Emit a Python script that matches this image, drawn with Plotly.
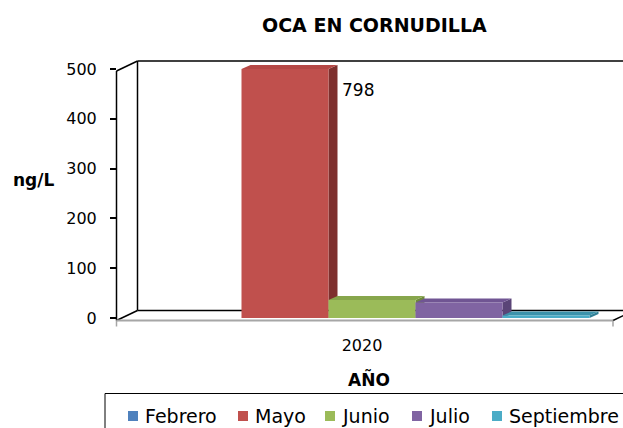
import plotly.graph_objects as go

# ---------------- data ----------------
chart_title = "OCA EN CORNUDILLA"
years = ["2020"]
months = ["Febrero", "Mayo", "Junio", "Julio", "Septiembre"]
values = [None, 798, 36, 31, 5]
y_ticks = [0, 100, 200, 300, 400, 500]
y_max = 500
y_title = "ng/L"
x_title = "AÑO"

# ---------------- styles ----------------
front_colors = ["#4F81BD", "#C0504D", "#9BBB59", "#8064A2", "#4BACC6"]
side_colors = ["#3A5F8C", "#7E302E", "#6E8A3C", "#5A4577", "#2F7F95"]
top_colors = ["#4674AA", "#B54845", "#87A64C", "#705593", "#3C93AB"]
FONT = "DejaVu Sans"

W, H = 623, 428
L, R = 117, 613          # plot area in pixels (front plane)
T, B = 69, 318
PW, PH = R - L, B - T
center_px = 372
gap = 0.123
group_w = 1 - gap
bar_w = group_w / len(months)
x0 = -(center_px - L) / PW
x_range = [x0, x0 + 1]

WALL_DX, WALL_DY = 21, 10  # depth of walls (px)
BAR_DX, BAR_DY = 9, 4      # depth of bars (px)


def fx(px):
    return (px - L) / PW


def fy(py):
    return (B - py) / PH


def x_to_px(xv):
    return L + (xv - x_range[0]) / (x_range[1] - x_range[0]) * PW


def y_to_px(yv):
    return B - yv / y_max * PH


fig = go.Figure()

shapes = []


def line(px0, py0, px1, py1, color="black", width=1.5):
    shapes.append(dict(type="line", xref="paper", yref="paper",
                       x0=fx(px0), y0=fy(py0), x1=fx(px1), y1=fy(py1),
                       line=dict(color=color, width=width), layer="below"))


def poly(pts, color):
    path = "M " + " L ".join(f"{fx(a):.5f},{fy(b):.5f}" for a, b in pts) + " Z"
    shapes.append(dict(type="path", xref="paper", yref="paper", path=path,
                       fillcolor=color, line=dict(width=0), layer="below"))


# 3D frame (walls and floor)
front_top = 71
front_bot = 320.5
line(L - 0.5, front_top, L - 0.5, front_bot)
line(L - 0.5, front_top, L - 0.5 + WALL_DX, front_top - WALL_DY)
line(L - 0.5, front_bot, L - 0.5 + WALL_DX, front_bot - WALL_DY)
line(L - 0.5 + WALL_DX, front_top - WALL_DY, L - 0.5 + WALL_DX, front_bot - WALL_DY)
line(L - 0.5 + WALL_DX, front_top - WALL_DY, W + 30, front_top - WALL_DY)
line(L - 0.5 + WALL_DX, front_bot - WALL_DY, W + 30, front_bot - WALL_DY)
line(L - 0.5, front_bot, R, front_bot, color="#A6A6A6", width=2)
line(R, front_bot, R + WALL_DX, front_bot - WALL_DY)
line(R, front_bot, R, front_bot + 6, color="#A6A6A6", width=1.5)
line(L - 0.5, front_bot, L - 0.5, front_bot + 6, color="#A6A6A6", width=1.5)

# bars (front faces) + 3D faces computed from the data
for i, (m, v) in enumerate(zip(months, values)):
    off = -group_w / 2 + i * bar_w
    fig.add_trace(go.Bar(
        x=years, y=[v], name=m, width=[bar_w], offset=[off],
        marker=dict(color=front_colors[i], line=dict(width=0)),
        showlegend=False, hoverinfo="name+y"))
    if v is None:
        continue
    vc = min(v, y_max)
    xl = x_to_px(off)
    xr = x_to_px(off + bar_w)
    yb = y_to_px(0)
    yt = y_to_px(vc)
    poly([(xr, yb), (xr + BAR_DX, yb - BAR_DY), (xr + BAR_DX, yt - BAR_DY), (xr, yt)], side_colors[i])
    poly([(xl, yt), (xl + BAR_DX, yt - BAR_DY), (xr + BAR_DX, yt - BAR_DY), (xr, yt)], top_colors[i])

annotations = []

# data label for the clipped bar
i_max = 1
off_max = -group_w / 2 + i_max * bar_w
annotations.append(dict(x=off_max + bar_w, y=min(values[i_max], y_max) - 42,
                        xref="x", yref="y", text=str(values[i_max]),
                        showarrow=False, xanchor="left", yanchor="middle", xshift=11,
                        font=dict(family=FONT, size=17, color="black")))

# title and axis titles
annotations.append(dict(x=fx(374), y=fy(25), xref="paper", yref="paper",
                        text="<b>" + chart_title + "</b>", showarrow=False,
                        xanchor="center", yanchor="middle",
                        font=dict(family=FONT, size=19, color="black")))
annotations.append(dict(x=fx(33), y=fy(180), xref="paper", yref="paper",
                        text="<b>" + y_title + "</b>", showarrow=False,
                        xanchor="center", yanchor="middle",
                        font=dict(family=FONT, size=17, color="black")))
annotations.append(dict(x=fx(369), y=fy(379), xref="paper", yref="paper",
                        text="<b>" + x_title + "</b>", showarrow=False,
                        xanchor="center", yanchor="middle",
                        font=dict(family=FONT, size=17, color="black")))

# legend (drawn manually, box clipped by the page edge)
shapes.append(dict(type="rect", xref="paper", yref="paper",
                   x0=fx(105), y0=fy(393.5), x1=fx(W + 40), y1=fy(H + 40),
                   line=dict(color="black", width=1), fillcolor="white", layer="above"))
legend_text_x = [143, 253, 340, 427, 507]
legend_y = 416
for m, c, tx in zip(months, front_colors, legend_text_x):
    shapes.append(dict(type="rect", xref="paper", yref="paper",
                       x0=fx(tx - 15), x1=fx(tx - 5), y0=fy(legend_y - 5), y1=fy(legend_y + 5),
                       fillcolor=c, line=dict(width=0), layer="above"))
    annotations.append(dict(x=fx(tx), y=fy(legend_y), xref="paper", yref="paper",
                            text=m, showarrow=False, xanchor="left", yanchor="middle",
                            font=dict(family=FONT, size=19, color="black")))

fig.update_layout(
    width=W, height=H,
    margin=dict(l=L, r=W - R, t=T, b=H - B, pad=0),
    paper_bgcolor="white", plot_bgcolor="rgba(0,0,0,0)",
    barmode="overlay",
    showlegend=False,
    shapes=shapes,
    annotations=annotations,
    font=dict(family=FONT, size=16, color="black"),
    xaxis=dict(type="category", range=x_range, showgrid=False, zeroline=False,
               showline=False, ticks="", ticklabelstandoff=16, ticklabelshift=-10,
               tickfont=dict(family=FONT, size=16, color="black")),
    yaxis=dict(range=[0, y_max], tickvals=y_ticks, showgrid=False, zeroline=False,
               showline=False, ticks="outside", ticklen=6, tickwidth=1.5,
               tickcolor="black", ticklabelstandoff=10,
               tickfont=dict(family=FONT, size=16, color="black")),
)

fig.write_html("out.html", config={"displayModeBar": False},
               post_script="document.body.style.margin='0px';document.body.style.overflow='hidden';")
